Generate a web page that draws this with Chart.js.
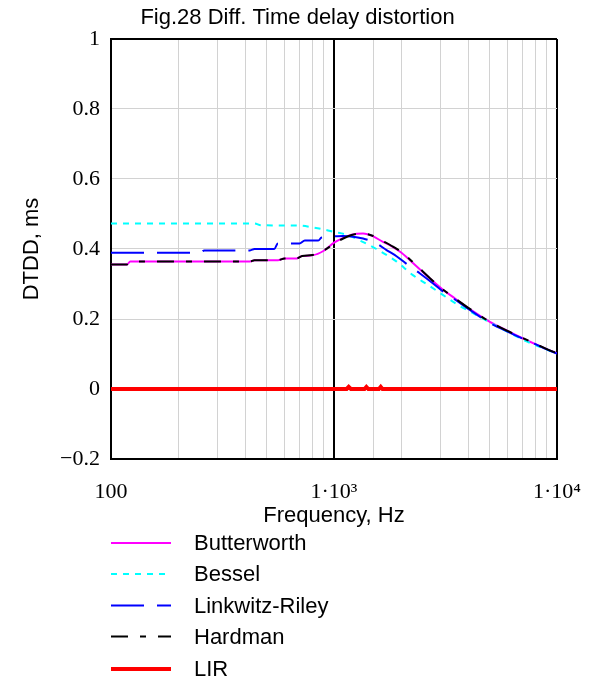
<!DOCTYPE html>
<html>
<head>
<meta charset="utf-8">
<title>Fig.28 Diff. Time delay distortion</title>
<script src="https://cdn.jsdelivr.net/npm/chart.js@4.4.1/dist/chart.umd.min.js"></script>
<style>
  html, body { margin: 0; padding: 0; background: #fff; }
  #wrap { width: 595px; height: 686px; }
</style>
</head>
<body>
<div id="wrap"><canvas id="dtddChart" width="595" height="686"></canvas></div>
<script>
// ===== Fig.28 Differential time delay distortion =====

// --- Data (frequency in Hz, DTDD in ms) ---
const butterFreq = [100, 118, 122, 420, 440, 560, 600, 680, 720, 800, 900, 1000, 1100, 1200, 1350, 1500, 1650, 1800, 2000, 2350, 2700, 3100, 3500, 4000, 5000, 6000, 7000, 8000, 9000, 10000];
const butterVals = [0.356, 0.356, 0.364, 0.364, 0.368, 0.368, 0.373, 0.373, 0.380, 0.382, 0.395, 0.418, 0.432, 0.441, 0.444, 0.436, 0.421, 0.409, 0.390, 0.350, 0.315, 0.282, 0.258, 0.231, 0.192, 0.166, 0.145, 0.128, 0.114, 0.102];

const besselFreq = [100, 440, 470, 700, 800, 900, 1000, 1150, 1300, 1550, 1750, 1910, 2250, 2600, 3075, 3600, 4200, 5000, 5500, 6500, 7800, 9000, 10000];
const besselVals = [0.473, 0.473, 0.468, 0.467, 0.462, 0.456, 0.449, 0.440, 0.425, 0.400, 0.380, 0.364, 0.326, 0.300, 0.269, 0.240, 0.217, 0.190, 0.176, 0.152, 0.128, 0.113, 0.101];

const lrFreq = [100, 250, 262, 420, 440, 540, 560, 700, 740, 850, 880, 1000, 1100, 1200, 1350, 1550, 1720, 1900, 2100, 2430, 2800, 3075, 3500, 4000, 5000, 6000, 7000, 8000, 9000, 10000];
const lrVals = [0.389, 0.389, 0.396, 0.396, 0.400, 0.400, 0.416, 0.416, 0.424, 0.424, 0.433, 0.436, 0.437, 0.436, 0.430, 0.416, 0.397, 0.380, 0.359, 0.330, 0.300, 0.279, 0.255, 0.229, 0.189, 0.164, 0.144, 0.128, 0.113, 0.101];

const hardmanFreq = [100, 118, 122, 420, 440, 560, 600, 680, 720, 800, 900, 1000, 1100, 1200, 1350, 1500, 1650, 1800, 2000, 2350, 2700, 3100, 3500, 4000, 5000, 6000, 7000, 8000, 9000, 10000];
const hardmanVals = [0.356, 0.356, 0.364, 0.364, 0.368, 0.368, 0.373, 0.373, 0.380, 0.383, 0.396, 0.415, 0.430, 0.440, 0.444, 0.437, 0.423, 0.410, 0.392, 0.352, 0.316, 0.283, 0.258, 0.232, 0.192, 0.166, 0.146, 0.129, 0.114, 0.102];

const lirFreq = [100, 1140, 1164, 1190, 1370, 1397, 1425, 1590, 1620, 1650, 10000];
const lirVals = [0, 0, 0.006, 0, 0, 0.006, 0, 0, 0.006, 0, 0];

const xTickLabels = { 100: '100', 1000: '1\u00b710\u00b3', 10000: '1\u00b710\u2074' };
const yTicks = [-0.2, 0, 0.2, 0.4, 0.6, 0.8, 1];

const SANS = '"Liberation Sans", Arial, sans-serif';
const SERIF = '"Liberation Serif", "Times New Roman", serif';

function toPoints(freqs, vals) {
  return freqs.map((f, i) => ({ x: f, y: vals[i] }));
}

// --- Legend drawn under the axis title, like the original sheet ---
const legendOrder = [0, 1, 2, 3, 4];
const sheetLegend = {
  id: 'sheetLegend',
  afterDraw(chart) {
    const ctx = chart.ctx;
    const rows = [543, 574, 605.5, 636.5, 669];
    ctx.save();
    legendOrder.forEach((idx, r) => {
      const ds = chart.data.datasets[idx];
      const y = rows[r];
      ctx.beginPath();
      ctx.setLineDash(ds.borderDash || []);
      ctx.lineWidth = ds.borderWidth;
      ctx.strokeStyle = ds.borderColor;
      ctx.moveTo(111, y);
      ctx.lineTo(171, y);
      ctx.stroke();
      ctx.setLineDash([]);
      ctx.fillStyle = '#000';
      ctx.font = '22px ' + SANS;
      ctx.textBaseline = 'middle';
      ctx.textAlign = 'left';
      ctx.fillText(ds.label, 194, y + 1);
    });
    ctx.restore();
  }
};

function gridColor(ctx, darkValues) {
  if (ctx.tick && darkValues.includes(ctx.tick.value)) return '#000';
  return '#d2d2d2';
}

function initChart() {
  const ctx = document.getElementById('dtddChart').getContext('2d');
  new Chart(ctx, {
    type: 'line',
    data: {
      datasets: [
        {
          label: 'Butterworth',
          data: toPoints(butterFreq, butterVals),
          borderColor: '#ff00ff',
          borderWidth: 2,
          cubicInterpolationMode: 'monotone',
          order: 4
        },
        {
          label: 'Bessel',
          data: toPoints(besselFreq, besselVals),
          borderColor: '#00ffff',
          borderWidth: 2,
          borderDash: [6, 6],
          cubicInterpolationMode: 'monotone',
          order: 3
        },
        {
          label: 'Linkwitz-Riley',
          data: toPoints(lrFreq, lrVals),
          borderColor: '#0000ff',
          borderWidth: 2,
          borderDash: [33, 13],
          cubicInterpolationMode: 'monotone',
          order: 2
        },
        {
          label: 'Hardman',
          data: toPoints(hardmanFreq, hardmanVals),
          borderColor: '#000000',
          borderWidth: 2,
          borderDash: [17, 12, 6, 12],
          cubicInterpolationMode: 'monotone',
          order: 1
        },
        {
          label: 'LIR',
          data: toPoints(lirFreq, lirVals),
          borderColor: '#ff0000',
          borderWidth: 4,
          tension: 0,
          order: 0
        }
      ]
    },
    options: {
      responsive: false,
      animation: false,
      elements: { point: { radius: 0 } },
      layout: { padding: { left: 0, right: 0, top: 0, bottom: 147 } },
      plugins: {
        legend: { display: false },
        tooltip: { enabled: false },
        title: {
          display: true,
          text: 'Fig.28 Diff. Time delay distortion',
          color: '#000',
          font: { family: SANS, size: 22, weight: 'normal' },
          padding: { top: 5, bottom: 7.6 }
        }
      },
      scales: {
        x: {
          type: 'logarithmic',
          min: 100,
          max: 10000,
          afterFit: scale => {
            scale.height = 80;
            // end labels may hang over the margins, as on the sheet
            scale.paddingLeft = 0;
            scale.paddingRight = 0;
          },
          border: { color: '#000', width: 2 },
          grid: {
            drawTicks: false,
            color: c => gridColor(c, [1000, 10000]),
            lineWidth: c => (c.tick && (c.tick.value === 1000 || c.tick.value === 10000)) ? 2 : 1
          },
          ticks: {
            autoSkip: false,
            maxRotation: 0,
            padding: 20,
            color: '#000',
            font: { family: SERIF, size: 22 },
            callback: v => xTickLabels[v] !== undefined ? xTickLabels[v] : ''
          },
          title: {
            display: true,
            text: 'Frequency, Hz',
            color: '#000',
            font: { family: SANS, size: 22 },
            padding: { top: 0, bottom: 10 }
          }
        },
        y: {
          min: -0.2,
          max: 1,
          afterFit: scale => { scale.width = 111; },
          afterBuildTicks: scale => { scale.ticks = yTicks.map(v => ({ value: v })); },
          border: { color: '#000', width: 2 },
          grid: {
            drawTicks: false,
            color: c => gridColor(c, [1]),
            lineWidth: c => (c.tick && c.tick.value === 1) ? 2 : 1
          },
          ticks: {
            padding: 11,
            color: '#000',
            font: { family: SERIF, size: 22 },
            callback: v => {
              const r = Math.round(v * 10) / 10;
              return r < 0 ? '\u2212' + String(-r) : String(r);
            }
          },
          title: {
            display: true,
            text: 'DTDD, ms',
            color: '#000',
            font: { family: SANS, size: 22 },
            padding: { top: 18.5, bottom: 0 }
          }
        },
        // empty right-hand margin so the title centres on the whole sheet
        yRight: {
          position: 'right',
          display: true,
          afterFit: scale => { scale.width = 38; },
          grid: { display: false },
          border: { display: false },
          ticks: { display: false }
        }
      }
    },
    plugins: [sheetLegend]
  });
}

document.addEventListener('DOMContentLoaded', initChart);
</script>
</body>
</html>
